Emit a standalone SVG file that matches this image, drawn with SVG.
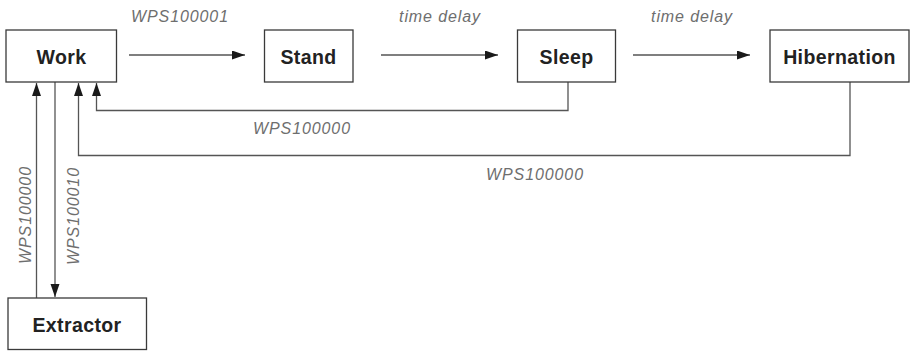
<svg xmlns="http://www.w3.org/2000/svg" width="912" height="351" viewBox="0 0 912 351">
  <style>
    .box { fill: #ffffff; stroke: #3a3a3a; stroke-width: 1.3; }
    .name { font-family: "Liberation Sans", Arial, sans-serif; font-weight: bold; font-size: 19.5px; fill: #222222; text-anchor: middle; letter-spacing: 0.4px; }
    .lbl { font-family: "Liberation Sans", Arial, sans-serif; font-style: italic; font-size: 16px; fill: #6e6e6e; text-anchor: middle; letter-spacing: 0.9px; }
    .conn { fill: none; stroke: #555555; stroke-width: 1.3; marker-end: url(#ah); }
    .plain { fill: none; stroke: #555555; stroke-width: 1.3; }
  </style>
  <defs>
    <marker id="ah" markerUnits="userSpaceOnUse" markerWidth="14" markerHeight="10" refX="13" refY="4.5" orient="auto">
      <path d="M0,0 L13,4.5 L0,9 Z" fill="#1a1a1a"/>
    </marker>
  </defs>
  <rect width="912" height="351" fill="#ffffff"/>

  <g id="connectors">
    <path class="conn" d="M129,55 H245"/>
    <path class="conn" d="M381,55 H498"/>
    <path class="conn" d="M633,55 H750"/>
    <path class="conn" d="M568,82 V110.5 H96.5 V83"/>
    <path class="conn" d="M850,82 V155.5 H78.5 V83"/>
    <path class="conn" d="M36.5,298 V83"/>
    <path class="conn" d="M55,82 V297"/>
    <text class="lbl" x="180" y="21.5">WPS100001</text>
    <text class="lbl" x="440" y="21.5">time delay</text>
    <text class="lbl" x="692" y="21.5">time delay</text>
    <text class="lbl" x="302" y="133.5">WPS100000</text>
    <text class="lbl" x="535" y="180">WPS100000</text>
    <text class="lbl" transform="translate(31,215) rotate(-90)">WPS100000</text>
    <text class="lbl" transform="translate(79,216) rotate(-90)">WPS100010</text>
  </g>

  <g id="work">
    <rect class="box" x="6" y="30" width="110.5" height="52"/>
    <text class="name" x="61.5" y="63.5">Work</text>
  </g>
  <g id="stand">
    <rect class="box" x="264.5" y="30" width="88.5" height="52"/>
    <text class="name" x="308.5" y="63.5">Stand</text>
  </g>
  <g id="sleep">
    <rect class="box" x="517.5" y="30" width="98" height="52"/>
    <text class="name" x="566.5" y="63.5">Sleep</text>
  </g>
  <g id="hibernation">
    <rect class="box" x="770" y="30" width="139" height="52"/>
    <text class="name" x="839.5" y="63.5">Hibernation</text>
  </g>
  <g id="extractor">
    <rect class="box" x="8" y="298" width="138.5" height="51.5"/>
    <text class="name" x="77" y="331.5">Extractor</text>
  </g>
</svg>
